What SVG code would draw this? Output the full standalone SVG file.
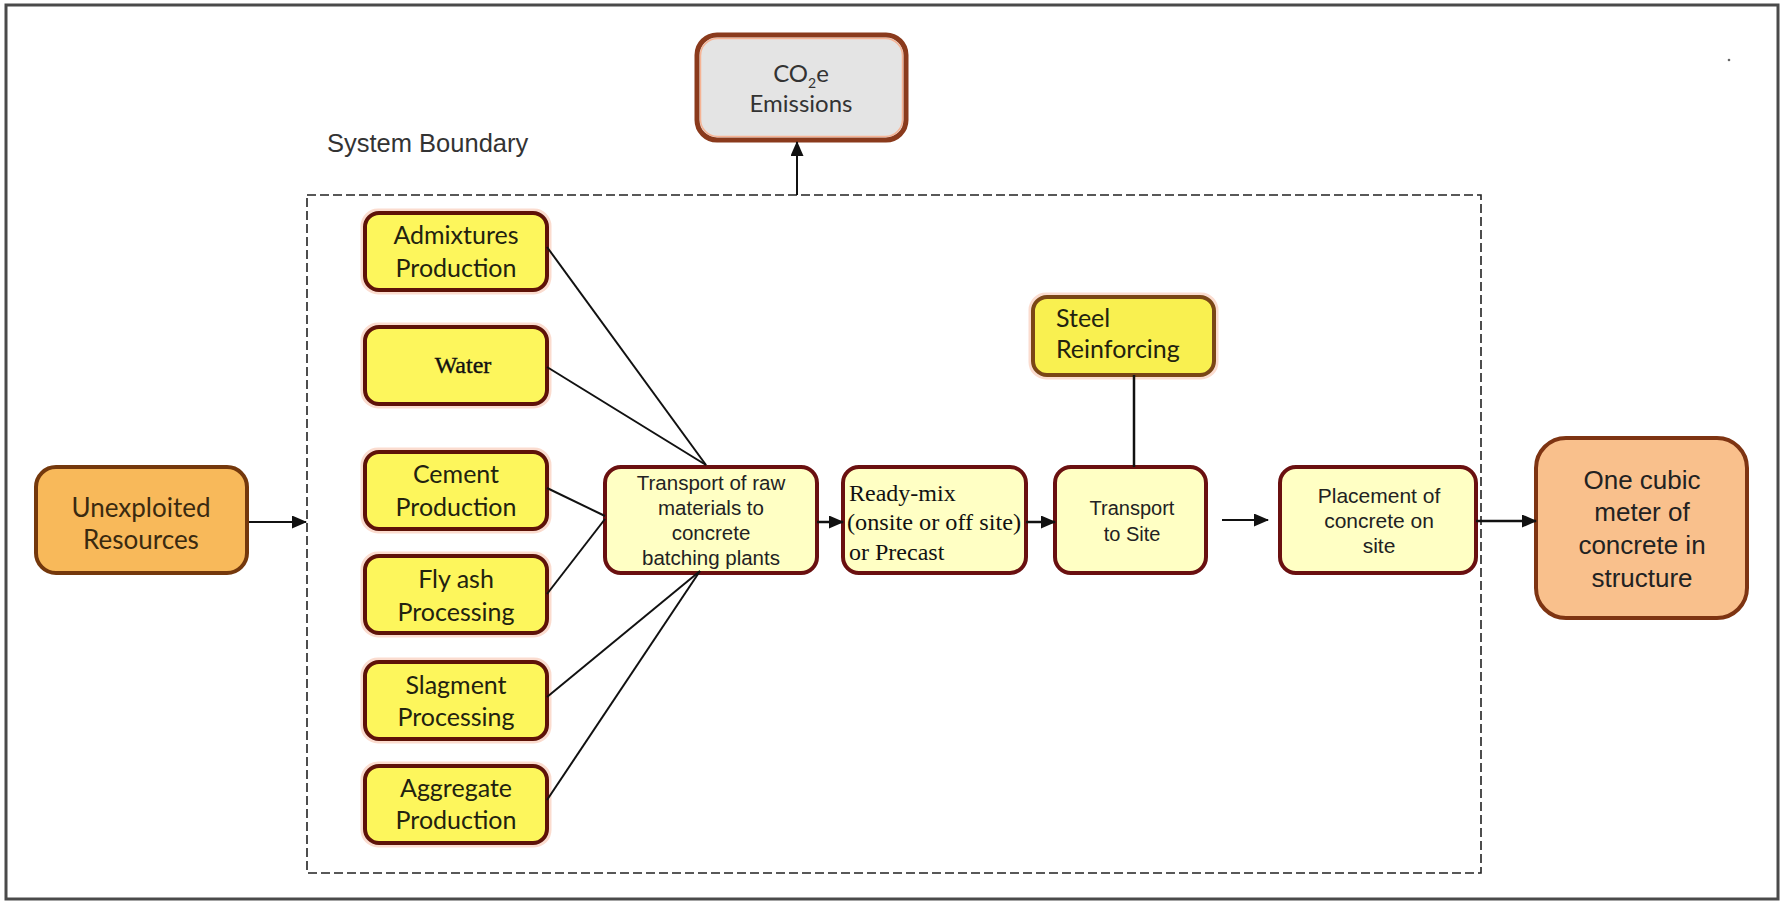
<svg xmlns="http://www.w3.org/2000/svg" width="1782" height="901" viewBox="0 0 1782 901">
<defs>
<marker id="arr" markerUnits="userSpaceOnUse" markerWidth="15" markerHeight="13" refX="14" refY="6.5" orient="auto">
<path d="M0,0 L15,6.5 L0,13 z" fill="#111"/>
</marker>
</defs>
<style>
.frame{fill:#fff;stroke:#4a4a4a;stroke-width:3}
.boundary{fill:none;stroke:#222;stroke-width:1.6;stroke-dasharray:9 4}
.halo{fill:none;stroke:#fbdccf;stroke-width:3}
.yb{fill:#fdf65c;stroke:#5e1208;stroke-width:4}
.lb{fill:#ffffc4;stroke:#6a1010;stroke-width:4}
.cal{font-family:Lato,"Open Sans",sans-serif;fill:#22220f;text-anchor:middle}
.ari{font-family:"Liberation Sans",Arial,sans-serif;fill:#222;text-anchor:middle}
.tim{font-family:"Liberation Serif","Times New Roman",serif;fill:#111}
.conn line{stroke:#111;stroke-width:2;fill:none}
.conn .ar{marker-end:url(#arr)}
</style>
<rect class="frame" x="6" y="5" width="1772" height="894"/>
<circle cx="1729" cy="60" r="1.3" fill="#666"/>

<g id="system-boundary">
<rect class="boundary" x="307" y="195" width="1174" height="678"/>
<text class="ari" x="327" y="152" font-size="25.5" style="text-anchor:start;fill:#333">System Boundary</text>
</g>

<g id="co2-emissions">
<rect x="697" y="35" width="209" height="105" rx="20" fill="#e4e4e4" stroke="#8a3a1c" stroke-width="5"/>
<rect x="700.5" y="38.5" width="202" height="98" rx="17" fill="none" stroke="#f6b394" stroke-width="1.5"/>
<text class="cal" x="801" y="82" font-size="24" style="fill:#333">CO<tspan font-size="14" dy="6">2</tspan><tspan dy="-6">e</tspan></text>
<text class="cal" x="801" y="112" font-size="24" style="fill:#333">Emissions</text>
</g>

<g id="unexploited-resources">
<rect x="36" y="467" width="211" height="106" rx="20" fill="#f8b95a" stroke="#74380c" stroke-width="4"/>
<text class="cal" x="141" y="517" font-size="26" style="fill:#3a2a10">Unexploited</text>
<text class="cal" x="141" y="549" font-size="26" style="fill:#3a2a10">Resources</text>
</g>

<g id="admixtures">
<rect class="halo" x="362" y="210" width="188" height="83" rx="16"/>
<rect class="yb" x="365" y="213" width="182" height="77" rx="14"/>
<text class="cal" x="456" y="244" font-size="25">Admixtures</text>
<text class="cal" x="456" y="277" font-size="25">Production</text>
</g>

<g id="water">
<rect class="halo" x="362" y="324" width="188" height="83" rx="16"/>
<rect class="yb" x="365" y="327" width="182" height="77" rx="14"/>
<text class="tim" x="463" y="373" font-size="24" text-anchor="middle" stroke="#111" stroke-width="0.4">Water</text>
</g>

<g id="cement">
<rect class="halo" x="362" y="449" width="188" height="83" rx="16"/>
<rect class="yb" x="365" y="452" width="182" height="77" rx="14"/>
<text class="cal" x="456" y="483" font-size="25">Cement</text>
<text class="cal" x="456" y="516" font-size="25">Production</text>
</g>

<g id="fly-ash">
<rect class="halo" x="362" y="553" width="188" height="83" rx="16"/>
<rect class="yb" x="365" y="556" width="182" height="77" rx="14"/>
<text class="cal" x="456" y="588" font-size="25">Fly ash</text>
<text class="cal" x="456" y="621" font-size="25">Processing</text>
</g>

<g id="slagment">
<rect class="halo" x="362" y="659" width="188" height="83" rx="16"/>
<rect class="yb" x="365" y="662" width="182" height="77" rx="14"/>
<text class="cal" x="456" y="694" font-size="25">Slagment</text>
<text class="cal" x="456" y="726" font-size="25">Processing</text>
</g>

<g id="aggregate">
<rect class="halo" x="362" y="763" width="188" height="83" rx="16"/>
<rect class="yb" x="365" y="766" width="182" height="77" rx="14"/>
<text class="cal" x="456" y="797" font-size="25">Aggregate</text>
<text class="cal" x="456" y="829" font-size="25">Production</text>
</g>

<g id="transport-raw">
<rect class="lb" x="605" y="467" width="212" height="106" rx="16"/>
<text class="ari" x="711" y="490" font-size="20.5">Transport of raw</text>
<text class="ari" x="711" y="515" font-size="20.5">materials to</text>
<text class="ari" x="711" y="540" font-size="20.5">concrete</text>
<text class="ari" x="711" y="565" font-size="20.5">batching plants</text>
</g>

<g id="ready-mix">
<rect class="lb" x="843" y="467" width="183" height="106" rx="16"/>
<text class="tim" x="849" y="501" font-size="24">Ready-mix</text>
<text class="tim" x="847" y="530" font-size="24" textLength="174" lengthAdjust="spacingAndGlyphs">(onsite or off site)</text>
<text class="tim" x="849" y="560" font-size="24">or Precast</text>
</g>

<g id="steel-reinforcing">
<rect class="halo" x="1030" y="294" width="187" height="84" rx="16"/>
<rect x="1033" y="297" width="181" height="78" rx="14" fill="#f9f050" stroke="#7a4616" stroke-width="4"/>
<text class="cal" x="1056" y="327" font-size="25" style="text-anchor:start">Steel</text>
<text class="cal" x="1056" y="358" font-size="25" style="text-anchor:start">Reinforcing</text>
</g>

<g id="transport-site">
<rect class="lb" x="1055" y="467" width="151" height="106" rx="16"/>
<text class="ari" x="1132" y="515" font-size="20">Transport</text>
<text class="ari" x="1132" y="541" font-size="20">to Site</text>
</g>

<g id="placement">
<rect class="lb" x="1280" y="467" width="196" height="106" rx="16"/>
<text class="ari" x="1379" y="503" font-size="21">Placement of</text>
<text class="ari" x="1379" y="528" font-size="21">concrete on</text>
<text class="ari" x="1379" y="553" font-size="21">site</text>
</g>

<g id="one-cubic-meter">
<rect x="1536" y="438" width="211" height="180" rx="30" fill="#f9c08c" stroke="#7e3412" stroke-width="4"/>
<text class="ari" x="1642" y="489" font-size="26">One cubic</text>
<text class="ari" x="1642" y="521" font-size="26">meter of</text>
<text class="ari" x="1642" y="554" font-size="26">concrete in</text>
<text class="ari" x="1642" y="587" font-size="26">structure</text>
</g>

<g id="connectors" class="conn">
<line class="ar" x1="249" y1="522" x2="306" y2="522"/>
<line class="ar" x1="797" y1="195" x2="797" y2="142"/>
<line x1="547" y1="247" x2="706" y2="465"/>
<line x1="547" y1="367" x2="706" y2="465"/>
<line x1="547" y1="488" x2="605" y2="516"/>
<line x1="547" y1="594" x2="605" y2="519"/>
<line x1="547" y1="697" x2="700" y2="571"/>
<line x1="547" y1="800" x2="700" y2="571"/>
<line class="ar" x1="817" y1="522" x2="843" y2="522" style="stroke-width:2.5"/>
<line class="ar" x1="1026" y1="522" x2="1055" y2="522" style="stroke-width:2.5"/>
<line x1="1134" y1="375" x2="1134" y2="467" style="stroke-width:2.5"/>
<line class="ar" x1="1222" y1="520" x2="1268" y2="520"/>
<line class="ar" x1="1476" y1="521" x2="1536" y2="521" style="stroke-width:2.5"/>
</g>
</svg>
